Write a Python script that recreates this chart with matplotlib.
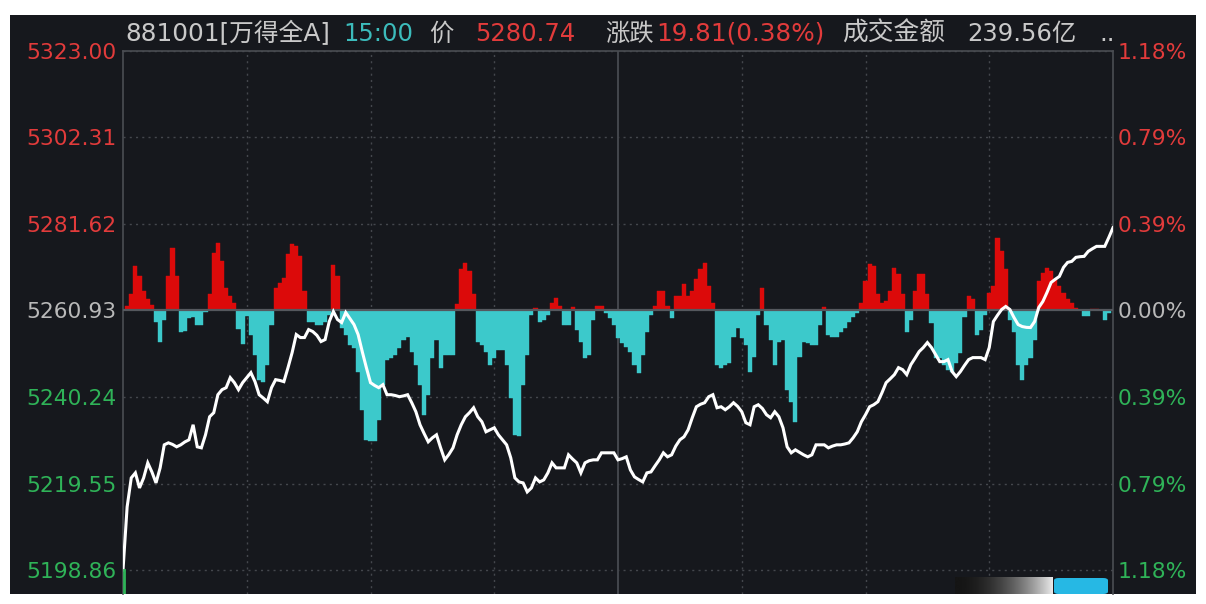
import numpy as np
import matplotlib
matplotlib.use('Agg')
import matplotlib.pyplot as plt
from matplotlib.patches import Rectangle, FancyBboxPatch

LATIN = ['DejaVu Sans', 'Noto Sans CJK SC']
CJK = ['Noto Sans CJK SC', 'DejaVu Sans']
plt.rcParams['font.family'] = LATIN

# ---- data ----
prev_close = 5260.93
y_top, y_bottom = 5323.00, 5198.86
price_ticks = [5323.00, 5302.31, 5281.62, 5260.93, 5240.24, 5219.55, 5198.86]
pct_labels = ['1.18%', '0.79%', '0.39%', '0.00%', '0.39%', '0.79%', '1.18%']

# one price per trading minute (0 = 9:30, 120 = 11:30/13:00, 240 = 15:00)
price = [
    5198.86, 5213.94, 5220.89, 5222.09, 5218.49, 5220.89, 5224.49, 5222.33, 5219.69, 5223.29,
    5228.80, 5229.28, 5228.90, 5228.32, 5228.80, 5229.50, 5230.00, 5233.60, 5228.32, 5228.08,
    5231.20, 5235.52, 5236.48, 5240.79, 5241.99, 5242.47, 5244.87, 5243.67, 5241.99, 5243.67,
    5244.87, 5246.07, 5243.91, 5240.79, 5240.00, 5239.11, 5242.47, 5244.39, 5244.20, 5243.91,
    5247.26, 5250.86, 5255.18, 5254.46, 5254.46, 5256.37, 5255.90, 5255.00, 5253.50, 5253.98,
    5258.29, 5260.69, 5258.77, 5258.05, 5260.45, 5259.00, 5257.57, 5255.18, 5251.10, 5247.26,
    5243.67, 5243.00, 5242.47, 5243.19, 5240.79, 5240.79, 5240.60, 5240.31, 5240.50, 5240.79,
    5238.87, 5236.72, 5233.60, 5231.50, 5229.52, 5230.48, 5231.20, 5228.08, 5225.21, 5226.50,
    5228.08, 5231.20, 5233.60, 5235.52, 5236.50, 5237.67, 5235.52, 5234.32, 5231.92, 5232.40,
    5232.88, 5231.20, 5230.00, 5228.80, 5225.69, 5220.89, 5219.93, 5219.69, 5217.54, 5218.49,
    5220.89, 5219.93, 5220.41, 5222.09, 5224.49, 5223.29, 5223.29, 5223.29, 5226.41, 5225.40,
    5224.49, 5222.09, 5224.49, 5225.00, 5225.21, 5225.21, 5226.89, 5226.89, 5226.89, 5226.89,
    5225.21, 5225.50, 5225.93, 5222.81, 5221.13, 5220.50, 5219.93, 5222.09, 5222.33, 5223.80,
    5225.21, 5226.89, 5225.93, 5226.41, 5228.50, 5230.00, 5230.72, 5232.40, 5235.28, 5237.91,
    5238.50, 5238.87, 5240.31, 5240.79, 5237.67, 5237.91, 5237.19, 5237.91, 5238.87, 5238.00,
    5236.72, 5234.08, 5233.60, 5237.91, 5238.39, 5237.50, 5236.00, 5235.28, 5236.72, 5235.52,
    5232.88, 5228.32, 5226.89, 5227.60, 5227.00, 5226.41, 5225.93, 5226.41, 5228.80, 5228.80,
    5228.80, 5228.08, 5228.50, 5228.80, 5228.80, 5229.00, 5229.28, 5230.48, 5231.92, 5234.32,
    5236.00, 5237.91, 5238.39, 5239.11, 5241.27, 5243.67, 5244.60, 5245.59, 5247.26, 5246.78,
    5245.59, 5247.98, 5249.50, 5251.10, 5252.06, 5253.26, 5252.06, 5250.38, 5248.70, 5248.70,
    5249.18, 5246.31, 5245.11, 5246.31, 5247.80, 5249.18, 5249.66, 5249.66, 5249.66, 5249.18,
    5252.06, 5258.29, 5259.80, 5261.17, 5261.89, 5261.17, 5259.25, 5257.57, 5257.09, 5256.90,
    5256.85, 5258.29, 5261.65, 5263.09, 5265.25, 5267.64, 5268.40, 5269.08, 5271.24, 5272.44,
    5272.68, 5273.64, 5273.80, 5273.88, 5275.08, 5275.70, 5276.27, 5276.27, 5276.27, 5278.43,
    5280.74,
]

# red/cyan strength bars around the previous close (indicator units)
flow = [
    0, 5, 17, 45, 35, 20, 12, 6, -12, -32,
    -10, 35, 63, 35, -22, -21, -8, -7, -15, -15,
    -2, 17, 58, 68, 50, 23, 15, 8, -19, -34,
    -6, -25, -45, -70, -72, -55, -15, 23, 28, 33,
    57, 67, 65, 55, 20, -12, -12, -15, -15, -12,
    -5, 46, 35, -18, -25, -35, -38, -62, -100, -130,
    -131, -131, -110, -75, -50, -48, -45, -38, -30, -27,
    -42, -55, -75, -105, -85, -48, -30, -58, -45, -45,
    -45, 7, 42, 48, 40, 17, -32, -35, -42, -55,
    -48, -40, -40, -55, -88, -125, -126, -75, -45, -5,
    3, -12, -10, -5, 8, 13, 5, -15, -15, 4,
    -20, -32, -48, -45, -10, 5, 5, -3, -8, -15,
    -28, -33, -37, -42, -55, -63, -45, -22, -5, 5,
    20, 20, 5, -8, 15, 15, 27, 15, 20, 32,
    42, 48, 25, 8, -55, -58, -55, -53, -27, -18,
    -28, -35, -62, -47, -5, 23, -15, -30, -55, -32,
    -30, -80, -92, -112, -47, -32, -33, -35, -35, -15,
    4, -25, -27, -27, -22, -18, -12, -7, -3, 8,
    30, 47, 45, 17, 8, 10, 20, 43, 37, 17,
    -22, -10, 20, 37, 37, 17, -13, -48, -48, -55,
    -60, -62, -53, -43, -7, 15, 12, -25, -20, -5,
    18, 25, 73, 60, 42, -10, -22, -55, -70, -55,
    -48, -30, 30, 38, 43, 40, 32, 25, 18, 12,
    8, 3, 0, -6, -6, 2, 2, 0, -10, -3,
    0,
]
FLOW_SCALE = 0.239  # index points per indicator unit on the price axis

header = [
    ('881001[万得全A]', '#c9c9c9', 125, LATIN, 17.8),
    ('15:00', '#3cbcbc', 343, LATIN, 17.5),
    ('价', '#c9c9c9', 429, CJK, 17.5),
    ('5280.74', '#e23b3b', 475, LATIN, 17.5),
    ('涨跌', '#c9c9c9', 605, CJK, 17.5),
    ('19.81(0.38%)', '#e23b3b', 656, LATIN, 17.8),
    ('成交金额', '#c9c9c9', 842, CJK, 18.5),
    ('239.56亿', '#c9c9c9', 967, LATIN, 17.5),
    ('..', '#c9c9c9', 1099, LATIN, 17.5),
]

W, H = 1206, 604
BG = '#16181d'
RED = '#e23b3b'
GREEN = '#2fb358'
GREY = '#b9b9b9'

fig = plt.figure(figsize=(W / 100, H / 100), dpi=100, facecolor='white')
fig.patches.append(Rectangle((10 / W, 10 / H), 1186 / W, 579 / H,
                             transform=fig.transFigure, facecolor=BG,
                             edgecolor='none', zorder=-5))

# axes spans x 123..1113, y 51..594 (pixels from top)
ax = fig.add_axes([123 / W, 10 / H, 990 / W, 543 / H])
ax.set_facecolor(BG)
k = (y_top - y_bottom) / (570 - 51)
ax.set_ylim(y_bottom - 24 * k, y_top)
ax.set_xlim(0, 240)

minutes = np.arange(len(price))
flow_pts = np.array(flow) * FLOW_SCALE
bar_colors = ['#dc0a0a' if v > 0 else '#3cc9cb' for v in flow]
ax.bar(minutes, flow_pts, bottom=prev_close, width=1.0, color=bar_colors,
       edgecolor=bar_colors, linewidth=0.3, zorder=2)

# grid
for t in price_ticks:
    if t == prev_close:
        ax.axhline(t, color='#55585e', lw=1.6, zorder=3)
    else:
        ax.axhline(t, color='#44474d', lw=1.0, ls=(0, (1.5, 3)), zorder=1)
for m in [30, 60, 90, 150, 180, 210]:
    ax.axvline(m, color='#44474d', lw=1.0, ls=(0, (1.5, 3)), zorder=1)
ax.axvline(120, color='#44474d', lw=1.4, zorder=1)

ax.plot(minutes, price, color='white', lw=2.2, zorder=4,
        solid_joinstyle='miter')

# cropped volume bar peeking below the chart
ax.axvline(0.3, ymin=0, ymax=24 / 543, color=GREEN, lw=2, zorder=5)

for side in ['left', 'right', 'top']:
    ax.spines[side].set_color('#4a4d52')
    ax.spines[side].set_linewidth(1.2)
ax.spines['bottom'].set_visible(False)
ax.set_xticks([])

ax.set_yticks(price_ticks, labels=['%.2f' % t for t in price_ticks])
ax.tick_params(axis='y', length=0, pad=4.5, labelsize=15.7)
for t, lab in zip(price_ticks, ax.get_yticklabels()):
    lab.set_color(RED if t > prev_close else GREEN if t < prev_close else GREY)

sec = ax.secondary_yaxis('right')
sec.set_yticks(price_ticks, labels=pct_labels)
sec.tick_params(axis='y', length=0, pad=3.5, labelsize=15.7)
sec.spines['right'].set_visible(False)
for t, lab in zip(price_ticks, sec.get_yticklabels()):
    lab.set_color(RED if t > prev_close else GREEN if t < prev_close else GREY)

for txt, col, xpx, fam, fs in header:
    fig.text(xpx / W, 1 - 34 / H, txt, color=col, fontsize=fs,
             family=fam, ha='left', va='center')

# bottom-right widget: grey fade and blue button
fade = fig.add_axes([955 / W, 10 / H, 98 / W, 17 / H])
grad = np.linspace(0, 1, 200).reshape(1, -1) ** 2
fade.imshow(grad, aspect='auto', cmap='gray', vmin=-0.1, vmax=1.1,
            extent=[0, 1, 0, 1])
fade.set_axis_off()
fig.patches.append(FancyBboxPatch((1054 / W, 10 / H), 54 / W, 16 / H,
                                  boxstyle='round,pad=0,rounding_size=0.004',
                                  transform=fig.transFigure,
                                  facecolor='#26b8e4', edgecolor='none',
                                  zorder=5))

fig.savefig('out.png', dpi=100, facecolor='white')
